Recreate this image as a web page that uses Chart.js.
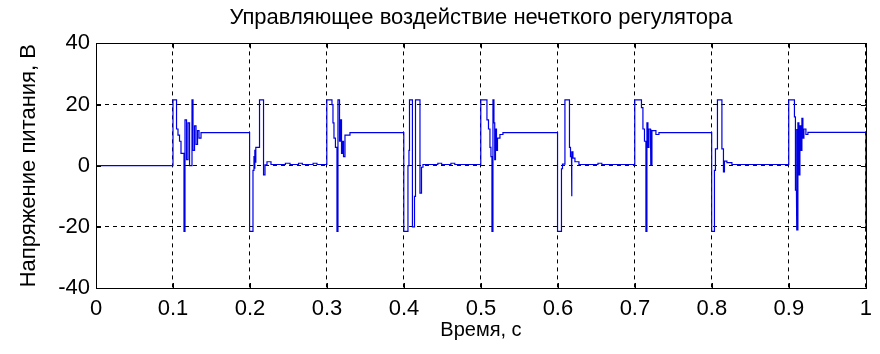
<!DOCTYPE html>
<html>
<head>
<meta charset="utf-8">
<script src="https://cdn.jsdelivr.net/npm/chart.js@4.4.0/dist/chart.umd.min.js"></script>
<style>
  body { margin: 0; background: #fff; }
  #wrap { width: 880px; height: 354px; }
</style>
</head>
<body>
<div id="wrap"><canvas id="ctrlChart" width="880" height="354"></canvas></div>
<script>
// Control signal of the fuzzy regulator (s, V)
const time = [
  0, 0.1, 0.1, 0.1046, 0.1046, 0.1065, 0.1065, 0.1085, 0.1085, 0.1104, 0.1104, 0.1143, 0.1143, 0.1156, 0.1156, 0.1176, 0.1176, 0.1195, 0.1195, 0.1215, 0.1215, 0.1247, 0.1247, 0.126, 0.126, 0.128, 0.128, 0.1299, 0.1299, 0.1319, 0.1319, 0.1338, 0.1338, 0.1364, 0.1364,
  0.1995, 0.1995, 0.2039, 0.2039, 0.2052, 0.2052, 0.2059, 0.2059, 0.2065, 0.2065, 0.2072, 0.2072, 0.2078, 0.2078, 0.2124, 0.2124, 0.2176, 0.2176, 0.2195, 0.2195, 0.2221, 0.2221, 0.2273, 0.2273, 0.246, 0.246, 0.252, 0.252, 0.263, 0.263, 0.268, 0.268, 0.282, 0.282, 0.287, 0.287,
  0.2998, 0.2998, 0.3065, 0.3065, 0.3078, 0.3078, 0.3091, 0.3091, 0.311, 0.311, 0.313, 0.313, 0.3143, 0.3143, 0.3163, 0.3163, 0.3176, 0.3176, 0.3189, 0.3189, 0.3202, 0.3202, 0.3215, 0.3215, 0.3234, 0.3234, 0.3299, 0.3299,
  0.3998, 0.3998, 0.4052, 0.4052, 0.4065, 0.4065, 0.4072, 0.4072, 0.411, 0.411, 0.4137, 0.4137, 0.415, 0.415, 0.4208, 0.4208, 0.4228, 0.4228, 0.4247, 0.4247, 0.444, 0.444, 0.449, 0.449, 0.461, 0.461, 0.466, 0.466,
  0.4998, 0.4998, 0.5078, 0.5078, 0.5098, 0.5098, 0.5117, 0.5117, 0.513, 0.513, 0.5143, 0.5143, 0.5156, 0.5156, 0.5169, 0.5169, 0.5179, 0.5179, 0.5189, 0.5189, 0.5202, 0.5202, 0.5215, 0.5215, 0.5247, 0.5247, 0.5286, 0.5286,
  0.5995, 0.5995, 0.6046, 0.6046, 0.6059, 0.6059, 0.6091, 0.6091, 0.615, 0.615, 0.6163, 0.6163, 0.6176, 0.6176, 0.6182, 0.6182, 0.6195, 0.6195, 0.6221, 0.6221, 0.6273, 0.6273, 0.652, 0.652, 0.657, 0.657,
  0.6998, 0.6998, 0.7085, 0.7085, 0.7104, 0.7104, 0.7124, 0.7124, 0.7143, 0.7143, 0.7156, 0.7156, 0.7169, 0.7169, 0.7182, 0.7182, 0.7202, 0.7202, 0.7208, 0.7208, 0.7221, 0.7221, 0.7273, 0.7273, 0.7312, 0.7312,
  0.7997, 0.7997, 0.8033, 0.8033, 0.8046, 0.8046, 0.8072, 0.8072, 0.813, 0.813, 0.815, 0.815, 0.8163, 0.8163, 0.8195, 0.8195, 0.826, 0.826,
  0.8998, 0.8998, 0.9072, 0.9072, 0.9085, 0.9085, 0.9098, 0.9098, 0.9104, 0.9104, 0.9117, 0.9117, 0.913, 0.913, 0.9143, 0.9143, 0.9156, 0.9156, 0.9169, 0.9169, 0.9182, 0.9182, 0.9195, 0.9195, 0.9221, 0.9221, 0.9247, 0.9247, 1, 1
];
const voltage = [
  0, 0, 21.5, 21.5, 12, 12, 10, 10, 8, 8, 4, 4, -21.5, -21.5, 15, 15, 2, 2, 14, 14, 0, 0, 21.5, 21.5, 5, 5, 13, 13, 7, 7, 11.5, 11.5, 9, 9, 10.8,
  10.8, -21.5, -21.5, -1.5, -1.5, 3, 3, -1, -1, 5, 5, 1, 1, 6, 6, 21.5, 21.5, -3, -3, 0.3, 0.3, 1.3, 1.3, 0.4, 0.4, 0.8, 0.8, 0.4, 0.4, 0.8, 0.8, 0.4, 0.4, 0.8, 0.8, 0.4,
  0.4, 21.5, 21.5, 20, 20, 14, 14, 9, 9, 6, 6, -21.5, -21.5, 21.5, 21.5, 8, 8, 15, 15, 4, 4, 8, 8, 3, 3, 10, 10, 10.8,
  10.8, -21.5, -21.5, 0, 0, 5, 5, 21.5, 21.5, -20, -20, -10, -10, 21.5, 21.5, -9, -9, -0.5, -0.5, 0.4, 0.4, 0.8, 0.8, 0.4, 0.4, 0.8, 0.8, 0.4,
  0.4, 21.5, 21.5, 15, 15, 12, 12, 6, 6, 3, 3, -21.5, -21.5, 21.5, 21.5, 14, 14, 2, 2, 12, 12, 5, 5, 9, 9, 10.2, 10.2, 10.8,
  10.8, -21.5, -21.5, -1, -1, 0.5, 0.5, 21.5, 21.5, 6, 6, 3, 3, -10, -10, 4.5, 4.5, 2.5, 2.5, 1.3, 1.3, 0.4, 0.4, 0.8, 0.8, 0.4,
  0.4, 21.5, 21.5, 19, 19, 12, 12, 8, 8, -21.5, -21.5, 14, 14, 6, 6, 12, 12, 11, 11, 0.3, 0.3, 11.5, 11.5, 10.2, 10.2, 10.8,
  10.8, -21.5, -21.5, -1.5, -1.5, 5.5, 5.5, 21.5, 21.5, 5.5, 5.5, -2, -2, 1.5, 1.5, 1, 1, 0.4,
  0.4, 21.5, 21.5, 16, 16, -8, -8, 12, 12, -21, -21, 14, 14, -3, -3, 13, 13, 5, 5, 15.5, 15.5, 9, 9, 12, 12, 10.2, 10.2, 10.9, 10.9, -21.5
];

const xTicks = [0, 0.1, 0.2, 0.3, 0.4, 0.5, 0.6, 0.7, 0.8, 0.9, 1];
const xTickLabels = ['0', '0.1', '0.2', '0.3', '0.4', '0.5', '0.6', '0.7', '0.8', '0.9', '1'];
const yTicks = [-40, -20, 0, 20, 40];
const yTickLabels = ['-40', '-20', '0', '20', '40'];

const titleText = 'Управляющее воздействие нечеткого регулятора';
const xTitle = 'Время, с';
const yTitle = 'Напряжение питания, В';

const FONT = "'Liberation Sans', Arial, sans-serif";

// solid box round the axes plus little inward ticks, matlab style
const boxPlugin = {
  id: 'matlabBox',
  afterDatasetsDraw(chart) {
    const {ctx, chartArea: a, scales: {x, y}} = chart;
    const tick = 5;
    ctx.save();
    ctx.strokeStyle = '#000';
    ctx.lineWidth = 1;
    ctx.setLineDash([]);
    ctx.beginPath();
    xTicks.forEach(v => {
      const px = Math.round(x.getPixelForValue(v)) + 0.5;
      ctx.moveTo(px, a.bottom); ctx.lineTo(px, a.bottom - tick);
      ctx.moveTo(px, a.top); ctx.lineTo(px, a.top + tick);
    });
    yTicks.forEach(v => {
      const py = Math.round(y.getPixelForValue(v)) + 0.5;
      ctx.moveTo(a.left, py); ctx.lineTo(a.left + tick, py);
      ctx.moveTo(a.right, py); ctx.lineTo(a.right - tick, py);
    });
    ctx.stroke();
    ctx.strokeRect(Math.round(a.left) + 0.5, Math.round(a.top) + 0.5,
      Math.round(a.right - a.left), Math.round(a.bottom - a.top));
    ctx.restore();
  }
};

new Chart(document.getElementById('ctrlChart'), {
  type: 'line',
  data: {
    datasets: [{
      data: time.map((t, i) => ({x: t, y: voltage[i]})),
      borderColor: '#0000e6',
      borderWidth: 1.2,
      pointRadius: 0,
      tension: 0,
      fill: false
    }]
  },
  options: {
    responsive: false,
    animation: false,
    layout: {padding: {left: 0, right: 14, top: 0, bottom: 0}},
    plugins: {
      legend: {display: false},
      tooltip: {enabled: false},
      title: {
        display: true,
        text: titleText,
        fullSize: false,
        color: '#000',
        font: {family: FONT, size: 22, weight: 'normal'},
        padding: {top: 5, bottom: 12}
      }
    },
    scales: {
      x: {
        type: 'linear',
        min: 0, max: 1,
        afterBuildTicks: s => { s.ticks = xTicks.map(v => ({value: v})); },
        afterFit: s => { s.height = 66; },
        ticks: {
          callback: (v, i) => xTickLabels[i],
          color: '#000',
          font: {family: FONT, size: 22},
          padding: 8,
          maxRotation: 0,
          autoSkip: false
        },
        grid: {color: '#000', lineWidth: 1, drawTicks: false},
        border: {display: true, color: '#000', dash: [4, 4]},
        title: {
          display: true, text: xTitle, color: '#000',
          font: {family: FONT, size: 20},
          padding: {top: 0, bottom: 12}
        }
      },
      y: {
        min: -40, max: 40,
        afterBuildTicks: s => { s.ticks = yTicks.map(v => ({value: v})); },
        afterFit: s => { s.width = 96; },
        ticks: {
          callback: (v, i) => yTickLabels[i],
          color: '#000',
          font: {family: FONT, size: 22},
          padding: 6
        },
        grid: {color: '#000', lineWidth: 1, drawTicks: false},
        border: {display: true, color: '#000', dash: [4, 4]},
        title: {
          display: true, text: yTitle, color: '#000',
          font: {family: FONT, size: 22},
          padding: {top: 16, bottom: 0}
        }
      }
    }
  },
  plugins: [boxPlugin]
});
</script>
</body>
</html>
